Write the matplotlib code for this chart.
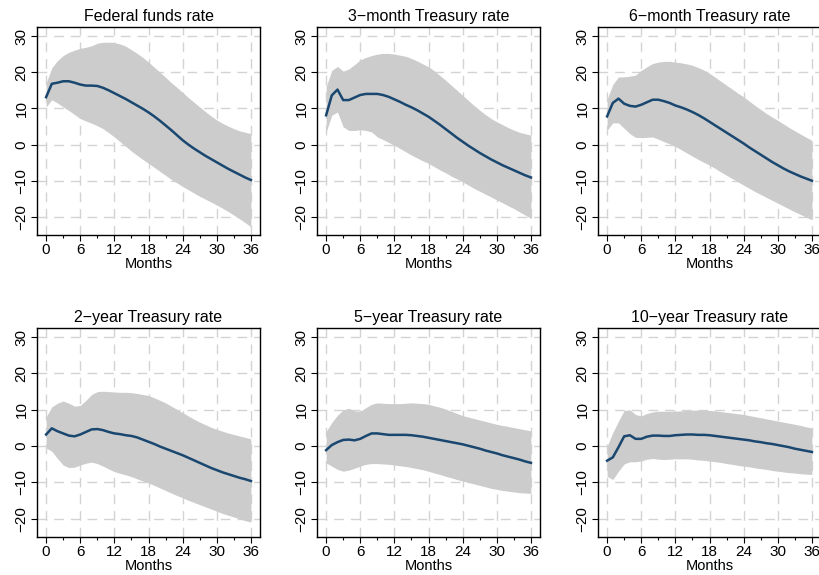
import matplotlib
matplotlib.use("Agg")
import matplotlib.pyplot as plt
import numpy as np

plt.rcParams['font.family'] = ['Liberation Sans', 'DejaVu Sans']

months = list(range(37))
titles = ["Federal funds rate", "3\u2212month Treasury rate", "6\u2212month Treasury rate",
          "2\u2212year Treasury rate", "5\u2212year Treasury rate", "10\u2212year Treasury rate"]
x_ticks = [0, 6, 12, 18, 24, 30, 36]
y_ticks = [-20, -10, 0, 10, 20, 30]
y_tick_labels = ["\u221220", "\u221210", "0", "10", "20", "30"]

ff_mean = [13.1, 16.8, 17.1, 17.5, 17.5, 17.1, 16.6, 16.3, 16.3, 16.2, 15.7, 15.0, 14.2,
           13.4, 12.6, 11.7, 10.8, 9.9, 8.9, 7.8, 6.6, 5.3, 4.0, 2.6, 1.2,
           0.0, -1.1, -2.1, -3.1, -4.0, -4.9, -5.8, -6.7, -7.5, -8.3, -9.1, -9.8]
ff_upper = [17.0, 21.2, 23.2, 24.6, 25.5, 26.1, 26.6, 26.9, 27.3, 28.0, 28.3, 28.3, 28.2,
            27.8, 27.2, 26.2, 25.2, 24.1, 22.8, 21.4, 20.0, 18.6, 17.1, 15.8, 14.4,
            13.0, 11.7, 10.4, 9.1, 7.9, 6.8, 5.9, 5.1, 4.4, 3.8, 3.4, 3.0]
ff_lower = [10.4, 12.4, 11.5, 10.4, 9.4, 8.3, 7.2, 6.5, 5.9, 5.2, 4.4, 3.3, 2.1,
            0.8, -0.5, -1.8, -3.0, -4.1, -5.2, -6.3, -7.4, -8.5, -9.6, -10.6, -11.6,
            -12.5, -13.4, -14.3, -15.1, -15.9, -16.7, -17.6, -18.5, -19.5, -20.5, -21.6, -22.7]

m3_mean = [8.1, 13.6, 15.2, 12.3, 12.3, 13.0, 13.7, 14.0, 14.0, 14.0, 13.7, 13.2, 12.5,
           11.8, 11.0, 10.3, 9.5, 8.6, 7.7, 6.6, 5.5, 4.3, 3.1, 1.9, 0.8,
           -0.3, -1.3, -2.3, -3.2, -4.1, -4.9, -5.7, -6.4, -7.1, -7.8, -8.5, -9.1]
m3_upper = [16.0, 20.5, 21.6, 20.3, 20.9, 22.1, 23.4, 24.1, 24.6, 25.0, 25.2, 25.2, 25.0,
            24.7, 24.4, 23.8, 23.1, 22.3, 21.5, 20.4, 19.1, 17.8, 16.4, 15.0, 13.6,
            12.2, 10.8, 9.5, 8.3, 7.2, 6.3, 5.5, 4.7, 4.0, 3.4, 3.0, 2.6]
m3_lower = [3.5, 8.1, 9.0, 4.9, 3.9, 3.9, 4.1, 3.9, 3.5, 2.1, 1.4, 0.6, -0.2,
            -1.1, -2.0, -2.9, -3.7, -4.5, -5.2, -6.1, -7.0, -7.8, -8.7, -9.5, -10.3,
            -11.2, -12.1, -12.9, -13.7, -14.5, -15.3, -16.1, -16.9, -17.7, -18.6, -19.5, -20.4]

m6_mean = [7.8, 11.5, 12.7, 11.3, 10.7, 10.5, 11.0, 11.7, 12.4, 12.4, 12.0, 11.5, 10.8,
           10.3, 9.7, 9.0, 8.2, 7.3, 6.3, 5.3, 4.3, 3.3, 2.3, 1.3, 0.3,
           -0.8, -1.8, -2.8, -3.8, -4.8, -5.7, -6.6, -7.4, -8.1, -8.8, -9.4, -10.0]
m6_upper = [12.5, 16.6, 18.7, 18.7, 18.9, 19.2, 20.5, 21.5, 22.4, 22.8, 23.0, 23.0, 22.8,
            22.6, 22.3, 21.9, 21.3, 20.6, 19.7, 18.6, 17.5, 16.4, 15.3, 14.2, 13.2,
            12.0, 10.8, 9.7, 8.6, 7.6, 6.7, 5.7, 4.7, 3.8, 2.9, 2.0, 1.2]
m6_lower = [4.0, 6.0, 6.0, 4.5, 3.0, 2.0, 1.9, 2.0, 2.1, 1.5, 0.8, 0.2, -0.5,
            -1.4, -2.3, -3.2, -4.1, -4.9, -5.7, -6.6, -7.6, -8.5, -9.4, -10.3, -11.2,
            -12.1, -13.0, -13.8, -14.6, -15.4, -16.2, -17.0, -17.8, -18.6, -19.3, -20.1, -20.8]

y2_mean = [3.2, 4.9, 4.1, 3.5, 2.9, 2.7, 3.2, 3.9, 4.6, 4.7, 4.4, 3.9, 3.5,
           3.3, 3.0, 2.8, 2.4, 1.8, 1.2, 0.6, -0.1, -0.7, -1.3, -1.9, -2.5,
           -3.2, -3.9, -4.6, -5.3, -6.0, -6.6, -7.2, -7.7, -8.2, -8.7, -9.1, -9.6]
y2_upper = [8.0, 10.8, 11.8, 12.4, 11.8, 11.0, 11.2, 12.6, 14.2, 15.0, 15.1, 15.0, 14.9,
            14.8, 14.8, 14.7, 14.5, 14.2, 13.9, 13.3, 12.6, 11.9, 11.0, 10.1, 9.2,
            8.3, 7.4, 6.6, 5.9, 5.2, 4.6, 4.1, 3.6, 3.2, 2.8, 2.4, 2.0]
y2_lower = [-0.5, -1.4, -3.4, -5.2, -5.9, -5.8, -5.2, -4.7, -4.4, -4.8, -5.5, -6.3, -7.0,
            -7.5, -7.9, -8.4, -9.0, -9.6, -10.1, -10.8, -11.5, -12.2, -12.9, -13.6, -14.2,
            -14.9, -15.5, -16.1, -16.7, -17.3, -17.9, -18.5, -19.0, -19.5, -20.0, -20.5, -20.9]

y5_mean = [-1.1, 0.3, 1.1, 1.7, 1.8, 1.6, 2.0, 2.8, 3.5, 3.5, 3.3, 3.1, 3.1,
           3.1, 3.1, 3.0, 2.8, 2.6, 2.3, 2.0, 1.7, 1.4, 1.1, 0.8, 0.5,
           0.1, -0.3, -0.7, -1.2, -1.6, -2.0, -2.5, -2.9, -3.3, -3.7, -4.2, -4.6]
y5_upper = [4.0, 6.5, 8.5, 10.0, 10.4, 9.7, 9.6, 10.6, 11.5, 11.9, 11.8, 11.7, 11.7,
            11.7, 11.8, 11.9, 11.8, 11.7, 11.5, 11.1, 10.7, 10.2, 9.6, 9.0, 8.4,
            8.0, 7.6, 7.2, 6.8, 6.4, 6.0, 5.7, 5.4, 5.1, 4.8, 4.5, 4.2]
y5_lower = [-4.6, -5.5, -6.4, -6.9, -6.6, -6.1, -5.5, -5.0, -4.8, -4.8, -4.9, -5.0, -5.2,
            -5.4, -5.6, -5.9, -6.2, -6.5, -6.9, -7.4, -7.8, -8.3, -8.7, -9.2, -9.6,
            -10.0, -10.4, -10.8, -11.2, -11.6, -11.9, -12.2, -12.4, -12.6, -12.8, -12.9, -13.0]

y10_mean = [-4.0, -3.1, -0.3, 2.7, 3.0, 2.0, 2.0, 2.6, 2.9, 2.9, 2.8, 2.8, 3.0,
            3.1, 3.2, 3.2, 3.1, 3.1, 3.0, 2.8, 2.6, 2.4, 2.2, 2.0, 1.8,
            1.6, 1.3, 1.1, 0.8, 0.6, 0.3, 0.0, -0.3, -0.7, -1.0, -1.3, -1.6]
y10_upper = [0.0, 3.7, 6.9, 9.8, 10.0, 8.7, 8.3, 9.0, 9.4, 9.6, 9.6, 9.6, 9.6,
             9.7, 9.8, 9.9, 9.9, 9.9, 9.8, 9.7, 9.5, 9.3, 9.1, 8.9, 8.7,
             8.4, 8.1, 7.8, 7.5, 7.2, 6.9, 6.6, 6.3, 6.0, 5.7, 5.3, 5.0]
y10_lower = [-8.3, -9.2, -6.9, -4.9, -4.3, -4.3, -4.1, -3.6, -3.4, -3.6, -3.7, -3.6, -3.5,
             -3.5, -3.5, -3.6, -3.8, -3.9, -4.1, -4.3, -4.5, -4.8, -5.0, -5.3, -5.5,
             -5.7, -6.0, -6.2, -6.4, -6.7, -6.9, -7.1, -7.3, -7.4, -7.6, -7.7, -7.8]

panels = [(ff_mean, ff_lower, ff_upper), (m3_mean, m3_lower, m3_upper), (m6_mean, m6_lower, m6_upper),
          (y2_mean, y2_lower, y2_upper), (y5_mean, y5_lower, y5_upper), (y10_mean, y10_lower, y10_upper)]

W, H = 819, 575
fig = plt.figure(figsize=(W / 100, H / 100), dpi=100)
fig.patch.set_facecolor('white')

lefts = [37, 317, 598]
rows = [(27, 235), (328, 537)]
axw = 223

line_color = '#1a476f'
band_color = '#cccccc'
grid_color = '#d3d3d3'

for i, (title, (mean, lo, hi)) in enumerate(zip(titles, panels)):
    r, c = divmod(i, 3)
    top, bot = rows[r]
    ax = fig.add_axes([lefts[c] / W, (H - bot) / H, axw / W, (bot - top) / H])
    ax.fill_between(months, lo, hi, color=band_color, linewidth=0, zorder=2)
    ax.plot(months, mean, color=line_color, linewidth=1.8, zorder=3)
    ax.set_xlim(-1.6, 37.6)
    ax.set_ylim(-25, 32.5)
    ax.set_xticks(x_ticks)
    ax.set_xticks(range(0, 37, 3), minor=True)
    ax.set_yticks(y_ticks)
    ax.set_yticklabels(y_tick_labels, rotation=90, va='center')
    ax.tick_params(axis='both', which='major', length=4, width=0.8, labelsize=11, pad=2, direction='out')
    ax.tick_params(axis='x', which='minor', length=2, width=0.8)
    ax.tick_params(axis='y', which='minor', left=False)
    ax.grid(True, which='major', color=grid_color, linestyle=(0, (7, 5)), linewidth=1.0, zorder=1)
    ax.set_axisbelow(True)
    for s in ax.spines.values():
        s.set_linewidth(1.0)
        s.set_color('black')
    ax.set_xlabel("Months", fontsize=10.5, labelpad=0)
    ax.set_title(title, fontsize=11.5, pad=4)

fig.savefig("out.png", dpi=100, facecolor='white')
